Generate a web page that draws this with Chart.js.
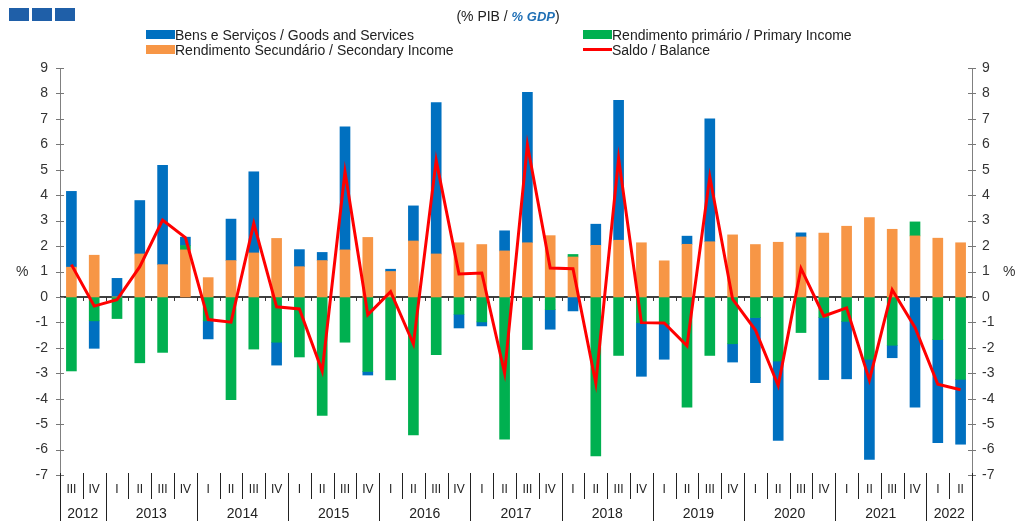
<!DOCTYPE html>
<html>
<head>
<meta charset="utf-8">
<script src="https://cdn.jsdelivr.net/npm/chart.js@4.4.1/dist/chart.umd.min.js"></script>
<style>
  body { margin: 0; background: #fff; font-family: Arial, "Liberation Sans", sans-serif; }
  #wrap { position: relative; width: 1016px; height: 521px; }
  #wrap canvas { position: absolute; left: 0; top: 0; }
  .logo { position: absolute; top: 8px; width: 20px; height: 13px; background: #1f5fa8; }
  .title { position: absolute; top: 8px; left: 0; width: 1016px; text-align: center; font-size: 14px; color: #222; }
  .title b { color: #1f6fb5; font-style: italic; font-size: 13px; }
  .leg { position: absolute; font-size: 14px; color: #222; white-space: nowrap; line-height: 16px; }
  .sw { display: inline-block; width: 29px; height: 9px; vertical-align: 1px; }
  .ln { display: inline-block; width: 29px; height: 3px; background: #ff0000; vertical-align: 4px; }
  .pct { position: absolute; top: 263px; font-size: 14px; color: #333; }
</style>
</head>
<body>
<div id="wrap">
  <canvas id="chart"></canvas>
  <div class="logo" style="left:9px"></div>
  <div class="logo" style="left:32px"></div>
  <div class="logo" style="left:55px"></div>
  <div class="title">(% PIB / <b>% GDP</b>)</div>
  <div class="leg" style="left:146px; top:27px"><span class="sw" style="background:#0070c0"></span>Bens e Serviços / Goods and Services</div>
  <div class="leg" style="left:583px; top:27px"><span class="sw" style="background:#00b050"></span>Rendimento primário / Primary Income</div>
  <div class="leg" style="left:146px; top:42px"><span class="sw" style="background:#f79646"></span>Rendimento Secundário / Secondary Income</div>
  <div class="leg" style="left:583px; top:42px"><span class="ln"></span>Saldo / Balance</div>
  <div class="pct" style="left:16px">%</div>
  <div class="pct" style="left:1003px">%</div>
</div>
<script>
// quarterly current account components, % GDP (2012 III - 2022 II)
const quarters = ['III','IV',
  'I','II','III','IV', 'I','II','III','IV', 'I','II','III','IV', 'I','II','III','IV', 'I','II','III','IV',
  'I','II','III','IV', 'I','II','III','IV', 'I','II','III','IV', 'I','II','III','IV',
  'I','II'];
const years = ['2012','2013','2014','2015','2016','2017','2018','2019','2020','2021','2022'];
const quartersPerYear = [2,4,4,4,4,4,4,4,4,4,2];

const goodsServices = [2.98,-1.08,0.73,2.10,3.90,0.33,-0.71,1.63,3.19,-0.90,
  0.67,0.32,4.84,-0.14,0.09,1.38,5.95,-0.54,-0.16,0.79,
  5.91,-0.77,-0.55,0.83,5.50,-2.11,-1.40,0.32,4.83,-0.72,
  -2.56,-3.12,0.16,-2.44,-2.26,-3.94,-0.49,-4.33,-4.05,-2.55];
const primaryIncome = [-2.91,-0.94,-0.85,-2.59,-2.18,0.17,-0.94,-4.04,-2.05,-1.78,
  -2.36,-4.66,-1.78,-2.93,-3.26,-5.42,-2.27,-0.68,-0.98,-5.59,
  -2.07,-0.50,0.10,-6.25,-2.30,-1.01,-1.05,-4.33,-2.30,-1.84,
  -0.81,-2.52,-1.40,-0.81,-0.96,-2.45,-1.90,0.55,-1.68,-3.24];
const secondaryIncome = [1.17,1.64,0,1.69,1.27,1.85,0.76,1.43,1.73,2.30,
  1.19,1.43,1.85,2.34,1.00,2.20,1.69,2.13,2.06,1.81,
  2.13,2.41,1.57,2.03,2.23,2.13,1.42,2.07,2.17,2.44,
  2.06,2.15,2.36,2.51,2.78,3.12,2.66,2.40,2.31,2.13];
const balance = [1.27,-0.36,-0.11,1.19,3.02,2.33,-0.89,-0.99,2.89,-0.39,
  -0.47,-2.91,4.92,-0.70,0.21,-1.85,5.37,0.90,0.94,-2.99,
  5.98,1.14,1.11,-3.39,5.45,-1.01,-1.02,-1.92,4.73,-0.09,
  -1.30,-3.48,1.12,-0.75,-0.43,-3.27,0.28,-1.20,-3.43,-3.65];
const yTicks = [-7,-6,-5,-4,-3,-2,-1,0,1,2,3,4,5,6,7,8,9];

const labels = quarters.map((q, i) => i + ':' + q);

// draws zero line, axis tick marks and the two-row quarter/year axis
const axisPlugin = {
  id: 'axisPlugin',
  beforeDatasetsDraw(chart) {
    const { ctx, chartArea: a, scales: { x, y } } = chart;
    const y0 = y.getPixelForValue(0);
    const step = x.getPixelForValue(1) - x.getPixelForValue(0);
    ctx.save();
    ctx.strokeStyle = '#000';
    ctx.lineWidth = 1.5;
    ctx.beginPath();
    ctx.moveTo(a.left, y0); ctx.lineTo(a.right, y0);
    ctx.stroke();
    ctx.lineWidth = 1;
    ctx.strokeStyle = '#333';
    ctx.beginPath();
    for (let i = 1; i < quarters.length; i++) {
      const bx = Math.round(x.getPixelForValue(i) - step / 2) + 0.5;
      ctx.moveTo(bx, y0); ctx.lineTo(bx, y0 + 4);
    }
    ctx.stroke();
    ctx.restore();
  },
  afterDraw(chart) {
    const { ctx, chartArea: a, scales: { x, y } } = chart;
    const step = x.getPixelForValue(1) - x.getPixelForValue(0);
    const H = chart.height;
    ctx.save();
    // y tick marks crossing both axes
    ctx.strokeStyle = '#777';
    ctx.lineWidth = 1;
    ctx.beginPath();
    yTicks.forEach(v => {
      const py = Math.round(y.getPixelForValue(v)) + 0.5;
      ctx.moveTo(a.left - 4, py); ctx.lineTo(a.left + 4, py);
      ctx.moveTo(a.right - 4, py); ctx.lineTo(a.right + 4, py);
    });
    ctx.stroke();
    // category separators
    const yearEnds = [];
    let acc = 0;
    quartersPerYear.forEach(n => { acc += n; yearEnds.push(acc); });
    ctx.strokeStyle = '#222';
    ctx.beginPath();
    for (let i = 0; i <= quarters.length; i++) {
      const bx = Math.round(x.getPixelForValue(i) - step / 2) + 0.5;
      const isYear = i === 0 || yearEnds.includes(i);
      ctx.moveTo(bx, a.bottom - 2);
      ctx.lineTo(bx, isYear ? H : a.bottom + 24);
    }
    ctx.stroke();
    ctx.fillStyle = '#222';
    ctx.textAlign = 'center';
    ctx.textBaseline = 'middle';
    ctx.font = '12px Arial, "Liberation Sans"';
    quarters.forEach((q, i) => ctx.fillText(q, x.getPixelForValue(i), a.bottom + 15));
    ctx.font = '14px Arial, "Liberation Sans"';
    let start = 0;
    years.forEach((yr, k) => {
      const end = start + quartersPerYear[k] - 1;
      const cx = (x.getPixelForValue(start) + x.getPixelForValue(end)) / 2;
      ctx.fillText(yr, cx, a.bottom + 39);
      start = end + 1;
    });
    ctx.restore();
  }
};

const yCommon = {
  min: -7, max: 9,
  grid: { display: false, drawTicks: false },
  border: { color: '#808080', width: 1 },
  ticks: { stepSize: 1, color: '#333', padding: 12, font: { size: 14, family: 'Arial, "Liberation Sans"' } }
};

new Chart(document.getElementById('chart'), {
  data: {
    labels: labels,
    datasets: [
      { type: 'bar', label: 'Rendimento Secundário / Secondary Income', data: secondaryIncome,
        backgroundColor: '#f79646', barThickness: 10, order: 1 },
      { type: 'bar', label: 'Rendimento primário / Primary Income', data: primaryIncome,
        backgroundColor: '#00b050', barThickness: 10, order: 1 },
      { type: 'bar', label: 'Bens e Serviços / Goods and Services', data: goodsServices,
        backgroundColor: '#0070c0', barThickness: 10, order: 1 },
      { type: 'line', label: 'Saldo / Balance', data: balance, stack: 'balance',
        borderColor: '#ff0000', borderWidth: 3, pointRadius: 0, tension: 0, order: 0 }
    ]
  },
  options: {
    responsive: true,
    maintainAspectRatio: false,
    animation: false,
    layout: { padding: { top: 68, left: 0, right: 0, bottom: 0 } },
    plugins: { legend: { display: false }, tooltip: { enabled: false } },
    scales: {
      x: {
        stacked: true,
        grid: { display: false },
        border: { display: false },
        ticks: { display: false },
        afterFit(s) { s.height = 46; }
      },
      y: Object.assign({}, yCommon, { stacked: true, position: 'left',
        afterFit(s) { s.width = 60; } }),
      y2: Object.assign({}, yCommon, { position: 'right',
        ticks: Object.assign({}, yCommon.ticks, { padding: 10 }),
        afterFit(s) { s.width = 44; } })
    }
  },
  plugins: [axisPlugin]
});
</script>
</body>
</html>
